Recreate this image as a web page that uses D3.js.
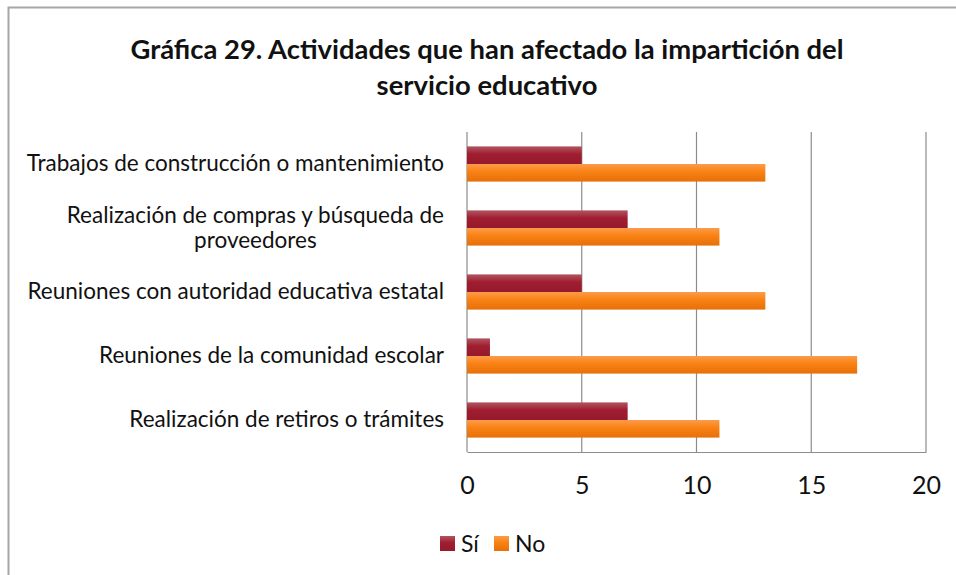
<!DOCTYPE html>
<html>
<head>
<meta charset="utf-8">
<script src="https://cdn.jsdelivr.net/npm/d3@7"></script>
<style>
  body { margin: 0; background: #fff; }
  svg { display: block; font-family: Lato, "Open Sans", sans-serif; }
</style>
</head>
<body>
<div id="chart"></div>
<script>
// datos
const categorias = [
  "Trabajos de construcción o mantenimiento",
  "Realización de compras y búsqueda de proveedores",
  "Reuniones con autoridad educativa estatal",
  "Reuniones de la comunidad escolar",
  "Realización de retiros o trámites"
];
const series = ["Sí", "No"];
const valoresSi = [5, 7, 5, 1, 7];
const valoresNo = [13, 11, 13, 17, 11];
const ticksX = [0, 5, 10, 15, 20];
const colores = { "Sí": ["#b0545f", "#a01d30", "#951a2c"], "No": ["#fc9c4a", "#f98113", "#e6700a"] };

const width = 956, height = 575;
const margin = { left: 467, right: 30, top: 132, bottom: 123 };

const svg = d3.select("#chart").append("svg")
  .attr("width", width).attr("height", height);

// degradados de las barras
const defs = svg.append("defs");
series.forEach((s, i) => {
  const g = defs.append("linearGradient").attr("id", "grad" + i)
    .attr("x1", 0).attr("y1", 0).attr("x2", 0).attr("y2", 1);
  g.append("stop").attr("offset", "0%").attr("stop-color", colores[s][0]);
  g.append("stop").attr("offset", "45%").attr("stop-color", colores[s][1]);
  g.append("stop").attr("offset", "100%").attr("stop-color", colores[s][2]);
});

// marco
svg.append("rect")
  .attr("x", 8.5).attr("y", 7.5).attr("width", 960).attr("height", 580)
  .attr("fill", "#fff").attr("stroke", "#a6a6a6").attr("stroke-width", 2);

// titulo
const titulo = svg.append("text")
  .attr("text-anchor", "middle")
  .attr("font-weight", "bold").attr("font-size", 27.4).attr("fill", "#111");
titulo.append("tspan").attr("x", 487).attr("y", 59)
  .text("Gráfica 29. Actividades que han afectado la impartición del");
titulo.append("tspan").attr("x", 487).attr("y", 95).text("servicio educativo");

const x = d3.scaleLinear().domain([0, 20]).range([margin.left, 926]);
const y = d3.scaleBand().domain(categorias).range([132, 452]).paddingInner(0.45).paddingOuter(0.225);
const ySub = d3.scaleBand().domain(series).range([0, y.bandwidth()]);

// lineas de cuadricula
svg.append("g").selectAll("line")
  .data(ticksX).enter().append("line")
  .attr("x1", d => x(d)).attr("x2", d => x(d))
  .attr("y1", 132).attr("y2", 452)
  .attr("stroke", "#8c8c8c").attr("stroke-width", 1.2);

// eje x
const ejeX = svg.append("g")
  .attr("transform", "translate(0,452)")
  .call(d3.axisBottom(x).tickValues(ticksX).tickSize(0).tickPadding(24));
ejeX.select(".domain").attr("stroke", "#8c8c8c").attr("stroke-width", 1.2);
ejeX.selectAll("text").attr("font-size", 25).attr("font-family", "Lato, sans-serif").attr("fill", "#111");

// barras
const grupos = svg.append("g").selectAll("g")
  .data(categorias).enter().append("g")
  .attr("transform", d => `translate(0,${y(d)})`);

grupos.selectAll("rect")
  .data((d, i) => series.map((s, j) => ({ s, j, v: s === "Sí" ? valoresSi[i] : valoresNo[i] })))
  .enter().append("rect")
  .attr("x", x(0))
  .attr("y", d => ySub(d.s))
  .attr("width", d => x(d.v) - x(0))
  .attr("height", ySub.bandwidth())
  .attr("fill", d => `url(#grad${d.j})`);

// etiquetas de categoria (con ajuste de linea)
const maxAncho = 425;
const etiquetas = svg.append("g").attr("font-size", 22.5).attr("fill", "#111");
categorias.forEach(c => {
  const t = etiquetas.append("text").attr("text-anchor", "middle");
  const palabras = c.split(" ");
  let lineas = [], actual = [];
  palabras.forEach(p => {
    actual.push(p);
    const prueba = t.append("tspan").text(actual.join(" "));
    const w = prueba.node().getComputedTextLength();
    prueba.remove();
    if (w > maxAncho && actual.length > 1) {
      actual.pop();
      lineas.push(actual.join(" "));
      actual = [p];
    }
  });
  lineas.push(actual.join(" "));
  const lh = 25;
  const cy = y(c) + y.bandwidth() / 2 - (lineas.length - 1) * lh / 2 + 7;
  const spans = lineas.map((l, i) => t.append("tspan").attr("y", cy + i * lh).text(l));
  const anchoMax = d3.max(spans, s => s.node().getComputedTextLength());
  spans.forEach(s => s.attr("x", 444 - anchoMax / 2));
});

// leyenda
const leyenda = svg.append("g").attr("transform", "translate(440,536)");
series.forEach((s, i) => {
  const item = leyenda.append("g").attr("transform", `translate(${i * 54},0)`);
  item.append("rect").attr("width", 15).attr("height", 15).attr("fill", `url(#grad${i})`);
  item.append("text").attr("x", 21).attr("y", 16).attr("font-size", 23).attr("fill", "#111").text(s);
});
</script>
</body>
</html>
